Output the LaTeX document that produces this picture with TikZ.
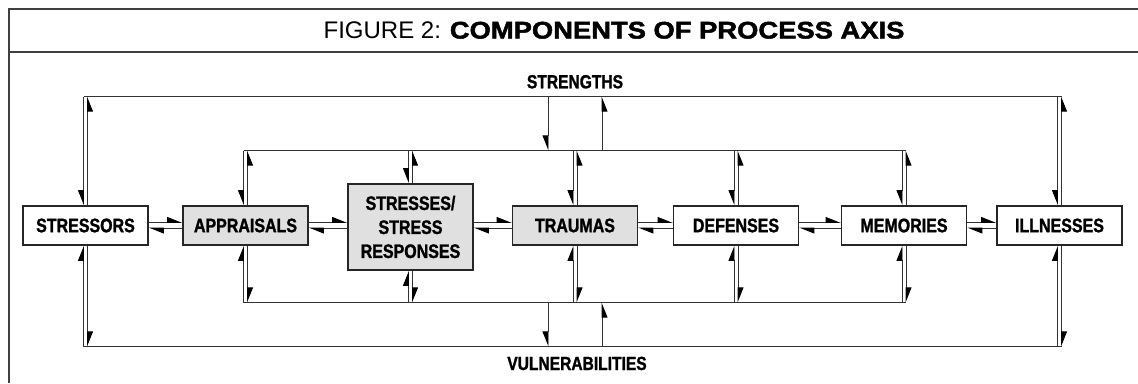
\documentclass[tikz,border=0pt]{standalone}
\usepackage{fontspec}
\setmainfont{Liberation Sans}
\newfontfamily\condfont[FakeStretch=0.82,FakeBold=1.4]{Liberation Sans}
\newfontfamily\widefont[FakeStretch=1.14,FakeBold=2]{Liberation Sans}
\usetikzlibrary{arrows.meta,calc}
\begin{document}
\begin{tikzpicture}[x=1pt,y=-1pt,
  frameline/.style={line width=1.8pt,draw=black!75},
  loopline/.style={line width=0.9pt,draw=black!80},
  box/.style={draw=black!85,line width=1.4pt,minimum width=125pt,minimum height=39pt,inner sep=0pt,
    font=\condfont\bfseries\fontsize{19.5}{24}\selectfont,align=center},
  plainbox/.style={box,fill=white},
  shadedbox/.style={box,fill=black!12},
  hR/.style={loopline,-{Triangle[right,length=14pt,width=11pt,color=black]}},
  hL/.style={loopline,-{Triangle[left,length=14pt,width=11pt,color=black]}},
  lbl/.style={font=\condfont\bfseries\fontsize{19}{22}\selectfont,inner sep=0pt,anchor=base}
]
\useasboundingbox (0,0) rectangle (1138,383);
% frame
\draw[frameline] (1138,9) -- (9,9) -- (9,383);
\draw[frameline] (9,52) -- (1138,52);
\node[anchor=base,inner sep=0pt] (title) at (614,38.5)
  {\fontsize{24}{28}\selectfont FIGURE 2: {\widefont\bfseries COMPONENTS OF PROCESS AXIS}};
% loop reference coordinates
\coordinate (OT) at (0,96.5);
\coordinate (IT) at (0,150.5);
\coordinate (IB) at (0,302.5);
\coordinate (OB) at (0,346.5);
\coordinate (row) at (0,225.5);
% boxes
\node[plainbox] (s1) at (85.5,225.5) {STRESSORS};
\node[shadedbox] (s2) at (245.5,225.5) {APPRAISALS};
\node[shadedbox,minimum height=86pt] (s3) at (410.5,227) {STRESSES/\\STRESS\\RESPONSES};
\node[shadedbox] (s4) at (575,225.5) {TRAUMAS};
\node[plainbox] (s5) at (736,225.5) {DEFENSES};
\node[plainbox] (s6) at (904,225.5) {MEMORIES};
\node[plainbox] (s7) at (1059.5,225.5) {ILLNESSES};
% loop lines
\draw[loopline] ($(s1.north |- OT)+(-2,0)$) -- ($(s7.north |- OT)+(2,0)$);
\draw[loopline] ($(s1.south |- OB)+(-2,0)$) -- ($(s7.south |- OB)+(2,0)$);
\draw[loopline] ($(s2.north |- IT)+(-2,0)$) -- ($(s6.north |- IT)+(2,0)$);
\draw[loopline] ($(s2.south |- IB)+(-2,0)$) -- ($(s6.south |- IB)+(2,0)$);
% vertical pairs
\foreach \bx/\tp/\bt in {s1/OT/OB, s7/OT/OB, s2/IT/IB, s3/IT/IB, s4/IT/IB, s5/IT/IB, s6/IT/IB} {
  \draw[hR] ($(\bx.north |- \tp)+(-2,0)$) -- ($(\bx.north)+(-2,0)$);
  \draw[hR] ($(\bx.north)+(2,0)$) -- ($(\bx.north |- \tp)+(2,0)$);
  \draw[hL] ($(\bx.south |- \bt)+(-2,0)$) -- ($(\bx.south)+(-2,0)$);
  \draw[hL] ($(\bx.south)+(2,0)$) -- ($(\bx.south |- \bt)+(2,0)$);
}
% horizontal pairs
\foreach \ba/\bc in {s1/s2, s2/s3, s3/s4, s4/s5, s5/s6, s6/s7} {
  \draw[hL] ($(\ba.east |- row)+(0,-3)$) -- ($(\bc.west |- row)+(0,-3)$);
  \draw[hL] ($(\bc.west |- row)+(0,2.5)$) -- ($(\ba.east |- row)+(0,2.5)$);
}
% strengths / vulnerabilities links
\coordinate (gL) at (548,0);
\coordinate (gR) at (602,0);
\draw[hR] (gL |- OT) -- (gL |- IT);
\draw[hR] (gR |- IT) -- (gR |- OT);
\draw[hR] (gL |- IB) -- (gL |- OB);
\draw[hR] (gR |- OB) -- (gR |- IB);
\node[lbl] (str) at (575,88.3) {STRENGTHS};
\node[lbl] (vul) at (577,370) {VULNERABILITIES};
\end{tikzpicture}
\end{document}
